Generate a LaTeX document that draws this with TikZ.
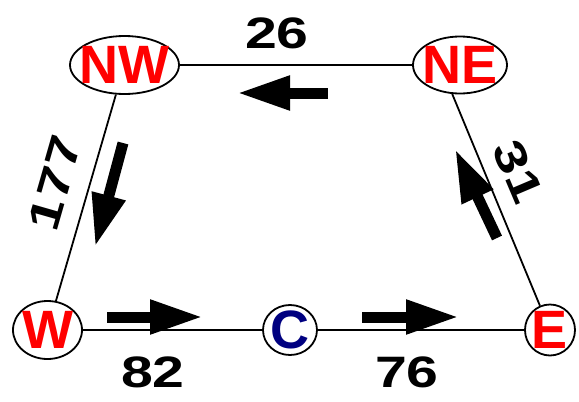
\documentclass[tikz,border=0pt]{standalone}
\usepackage{fontspec}
\setmainfont{Liberation Sans}
\newfontfamily\numfont[FakeStretch=1.3]{Liberation Sans}
\usetikzlibrary{arrows.meta,shapes.geometric}
\definecolor{navyc}{RGB}{0,0,128}
\begin{document}
\begin{tikzpicture}[x=1pt,y=-1pt,
  city/.style={ellipse, draw, line width=1.8pt, inner sep=-12pt, text=red,
    font=\fontsize{54}{54}\selectfont\bfseries},
  num/.style={font=\numfont\fontsize{44}{44}\selectfont\bfseries, inner sep=0pt},
  flow/.style={line width=11pt, -{Triangle[length=53pt,width=32pt]}},
  edge/.style={line width=1.8pt}
]
\useasboundingbox (0,0) rectangle (579,402);
\node[city, minimum width=109pt, minimum height=58pt] (NW) at (124.5,65) {NW};
\node[city, minimum width=94pt, minimum height=57pt] (NE) at (460,65) {NE};
\node[city, minimum width=69pt, minimum height=58pt] (W) at (47.5,330) {W};
\node[city, minimum width=54pt, minimum height=50pt, text=navyc] (C) at (290,330) {C};
\node[city, minimum width=50pt, minimum height=51pt] (E) at (550,330) {E};
\draw[edge] (NW) -- (NE);
\draw[edge] (NW) -- (W);
\draw[edge] (E) -- (NE.255);
\draw[edge] (W) -- (C);
\draw[edge] (C) -- (E);
\coordinate (a1s) at (328,93);  \coordinate (a1e) at (237,93);
\coordinate (a2s) at (123,143); \coordinate (a2e) at (95,247);
\coordinate (a3s) at (497,238); \coordinate (a3e) at (455,149);
\coordinate (a4s) at (107,317); \coordinate (a4e) at (203,317);
\coordinate (a5s) at (362,317); \coordinate (a5e) at (459,317);
\draw[flow] (a1s) -- (a1e);
\draw[flow] (a2s) -- (a2e);
\draw[flow] (a3s) -- (a3e);
\draw[flow] (a4s) -- (a4e);
\draw[flow] (a5s) -- (a5e);
\node[num] (l26) at (277,33) {26};
\node[num, rotate=74] (l177) at (55,183) {177};
\node[num, rotate=-67] (l31) at (518,172) {31};
\node[num] (l82) at (153,372) {82};
\node[num] (l76) at (407,372) {76};
\end{tikzpicture}
\end{document}
